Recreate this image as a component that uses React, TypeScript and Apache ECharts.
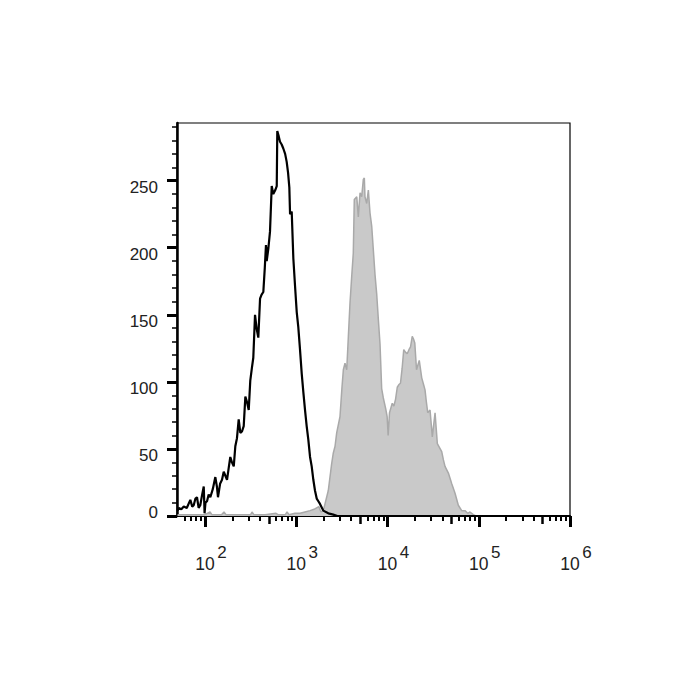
import React, { useEffect, useRef } from 'react';
import * as echarts from 'echarts';

// Y axis ticks (events count)
const yMajorTicks = [0, 50, 100, 150, 200, 250];
const yMinorTicks = [10, 20, 30, 40, 60, 70, 80, 90, 110, 120, 130, 140, 160, 170, 180, 190, 210, 220, 230, 240, 260, 270, 280, 290];
// X axis ticks (fluorescence intensity, log scale)
const xDecadeTicks = [100, 1000, 10000, 100000, 1000000];
const xHalfTicks = [500, 5000, 50000, 500000];
const xMinorTicks = [
  60, 70, 80, 90,
  200, 300, 400, 600, 700, 800, 900,
  2000, 3000, 4000, 6000, 7000, 8000, 9000,
  20000, 30000, 40000, 60000, 70000, 80000, 90000,
  200000, 300000, 400000, 600000, 700000, 800000, 900000,
];

// Isotype control histogram (black line): channel exponent (log10) and counts
const isoExp = [
  1.700, 1.712, 1.740, 1.767, 1.800, 1.839, 1.860, 1.876, 1.895, 1.912,
  1.930, 1.948, 1.966, 1.986, 1.995, 2.005, 2.022, 2.040, 2.058, 2.085,
  2.113, 2.130, 2.142, 2.165, 2.186, 2.205, 2.223, 2.241, 2.260, 2.277,
  2.295, 2.315, 2.332, 2.350, 2.369, 2.387, 2.405, 2.424, 2.442, 2.460,
  2.479, 2.496, 2.513, 2.529, 2.548, 2.565, 2.584, 2.603, 2.620, 2.639,
  2.655, 2.668, 2.676, 2.695, 2.712, 2.731, 2.748, 2.770, 2.786, 2.792,
  2.808, 2.822, 2.840, 2.858, 2.878, 2.895, 2.910, 2.924, 2.932, 2.950,
  2.968, 2.986, 3.005, 3.022, 3.040, 3.060, 3.078, 3.096, 3.114, 3.132,
  3.151, 3.169, 3.187, 3.205, 3.224, 3.242, 3.260, 3.296, 3.351, 3.406,
  3.450, 6.000,
];
const isoCount = [
  4, 6, 5, 7, 6, 12, 7, 8, 13, 14,
  6, 8, 15, 22, 2, 10, 11, 16, 14, 20,
  29, 22, 14, 24, 27, 33, 30, 27, 36, 44,
  40, 37, 52, 58, 72, 62, 63, 67, 89, 85,
  79, 101, 110, 118, 150, 140, 133, 162, 165, 167,
  185, 202, 190, 200, 212, 246, 240, 243, 246, 287,
  283, 279, 277, 274, 270, 264, 256, 245, 225, 227,
  192, 172, 152, 141, 125, 106, 92, 79, 67, 57,
  44, 37, 27, 19, 13, 11, 9, 4, 2, 1,
  0, 0,
];

// Stained sample histogram (grey filled): channel exponent (log10) and counts
const stainExp = [
  1.700, 1.760, 1.836, 1.934, 2.000, 2.055, 2.075, 2.110, 2.180, 2.208,
  2.230, 2.329, 2.420, 2.500, 2.515, 2.535, 2.658, 2.778, 2.800, 2.880,
  2.899, 2.920, 2.986, 3.041, 3.096, 3.151, 3.195, 3.247, 3.271, 3.296,
  3.315, 3.351, 3.388, 3.406, 3.425, 3.443, 3.479, 3.500, 3.516, 3.534,
  3.553, 3.571, 3.589, 3.608, 3.625, 3.636, 3.663, 3.680, 3.699, 3.717,
  3.735, 3.746, 3.753, 3.772, 3.790, 3.808, 3.827, 3.844, 3.863, 3.882,
  3.900, 3.918, 3.936, 3.954, 3.980, 3.996, 4.007, 4.022, 4.052, 4.070,
  4.088, 4.107, 4.125, 4.142, 4.160, 4.178, 4.198, 4.216, 4.235, 4.252,
  4.271, 4.285, 4.299, 4.318, 4.335, 4.348, 4.375, 4.395, 4.411, 4.426,
  4.441, 4.466, 4.491, 4.521, 4.546, 4.570, 4.594, 4.612, 4.630, 4.667,
  4.704, 4.740, 4.776, 4.813, 4.849, 4.879, 4.904, 4.940, 4.970, 5.000,
];
const stainCount = [
  1, 1, 1, 1, 1, 3, 1, 1, 1, 3,
  1, 1, 1, 1, 3, 1, 1, 2, 1, 1,
  3, 1, 2, 2, 3, 4, 5, 7, 3, 4,
  9, 19, 39, 47, 52, 62, 74, 95, 109, 114,
  109, 134, 159, 179, 196, 236, 238, 223, 241, 238,
  251, 252, 238, 233, 243, 226, 216, 199, 180, 165,
  146, 128, 95, 88, 80, 74, 60, 77, 84, 82,
  87, 96, 98, 99, 110, 124, 122, 121, 124, 126,
  134, 132, 129, 109, 113, 116, 103, 98, 94, 85,
  77, 79, 59, 77, 54, 51, 48, 42, 37, 32,
  24, 17, 8, 4, 4, 2, 3, 1, 0, 0,
];

const X_MIN = 49.3;
const X_MAX = 1000000;
const Y_MAX = 293;
const FONT = 'Liberation Sans, Arial, sans-serif';
const TEXT_COLOR = '#222';

function tickOnlyXAxis(values: number[], length: number, width: number) {
  return {
    type: 'log',
    logBase: 10,
    min: X_MIN,
    max: X_MAX,
    position: 'bottom',
    axisLine: { show: false, onZero: false },
    axisTick: { show: true, customValues: values, length, lineStyle: { color: '#000', width } },
    axisLabel: { show: false },
    splitLine: { show: false },
  };
}

export default function App() {
  const ref = useRef<HTMLDivElement>(null);

  useEffect(() => {
    if (!ref.current) return;
    const chart = echarts.init(ref.current, null, { renderer: 'svg' });

    const stainData = stainExp.map((e, i) => [Math.pow(10, e), stainCount[i]]);
    const isoData = isoExp.map((e, i) => [Math.pow(10, e), isoCount[i]]);

    const option: any = {
      animation: false,
      backgroundColor: '#fff',
      grid: {
        left: 177,
        right: 130,
        top: 123,
        bottom: 184,
        show: true,
        borderColor: '#000',
        borderWidth: 1.2,
        backgroundColor: 'transparent',
      },
      xAxis: [
        {
          type: 'log',
          logBase: 10,
          min: X_MIN,
          max: X_MAX,
          position: 'bottom',
          axisLine: { show: true, onZero: false, lineStyle: { color: '#000', width: 2 } },
          axisTick: { show: true, customValues: xDecadeTicks, length: 11, lineStyle: { color: '#000', width: 3 } },
          axisLabel: {
            show: true,
            customValues: xDecadeTicks,
            margin: 40,
            color: TEXT_COLOR,
            fontFamily: FONT,
            formatter: (v: number) => {
              const ex = Math.round(Math.log10(v));
              return `{p|\u00a0}{b|10}{s|${ex}}`;
            },
            rich: {
              p: { width: 12, fontSize: 17.5, lineHeight: 17, verticalAlign: 'bottom' },
              b: { fontSize: 17.5, lineHeight: 17, color: TEXT_COLOR, fontFamily: FONT, verticalAlign: 'bottom' },
              s: { fontSize: 17, lineHeight: 16, color: TEXT_COLOR, fontFamily: FONT, verticalAlign: 'bottom', padding: [0, 0, 12, 2.5] },
            },
          },
          splitLine: { show: false },
        },
        tickOnlyXAxis(xMinorTicks, 5, 2),
        tickOnlyXAxis(xHalfTicks, 8, 2.5),
      ],
      yAxis: [
        {
          type: 'value',
          min: 0,
          max: Y_MAX,
          position: 'left',
          axisLine: { show: true, onZero: false, lineStyle: { color: '#000', width: 2.5 } },
          axisTick: { show: true, customValues: yMajorTicks, length: 10, lineStyle: { color: '#000', width: 3 } },
          axisLabel: {
            show: true,
            customValues: yMajorTicks,
            margin: 19,
            color: TEXT_COLOR,
            fontFamily: FONT,
            formatter: (v: number) => (v === 0 ? `{z|${v}}` : `{r|${v}}`),
            rich: {
              z: { fontSize: 17, lineHeight: 17, color: TEXT_COLOR, fontFamily: FONT, padding: [0, 0, 7, 0] },
              r: { fontSize: 17, lineHeight: 17, color: TEXT_COLOR, fontFamily: FONT, padding: [14, 0, 0, 0] },
            },
          },
          splitLine: { show: false },
        },
        {
          type: 'value',
          min: 0,
          max: Y_MAX,
          position: 'left',
          axisLine: { show: false, onZero: false },
          axisTick: { show: true, customValues: yMinorTicks, length: 5, lineStyle: { color: '#000', width: 1.5 } },
          axisLabel: { show: false },
          splitLine: { show: false },
        },
      ],
      series: [
        {
          name: 'Stained',
          type: 'line',
          xAxisIndex: 0,
          yAxisIndex: 0,
          data: stainData,
          showSymbol: false,
          symbol: 'none',
          silent: true,
          z: 2,
          lineStyle: { color: '#a9a9a9', width: 1.5 },
          areaStyle: { color: '#c9c9c9', opacity: 1 },
        },
        {
          name: 'Isotype',
          type: 'line',
          xAxisIndex: 0,
          yAxisIndex: 0,
          data: isoData,
          showSymbol: false,
          symbol: 'none',
          silent: true,
          z: 3,
          lineStyle: { color: '#000', width: 2.2 },
        },
      ],
    };

    chart.setOption(option);
    return () => chart.dispose();
  }, []);

  return (
    <div
      ref={ref}
      style={{ position: 'fixed', left: 0, top: 0, width: 700, height: 700, background: '#fff' }}
    />
  );
}
